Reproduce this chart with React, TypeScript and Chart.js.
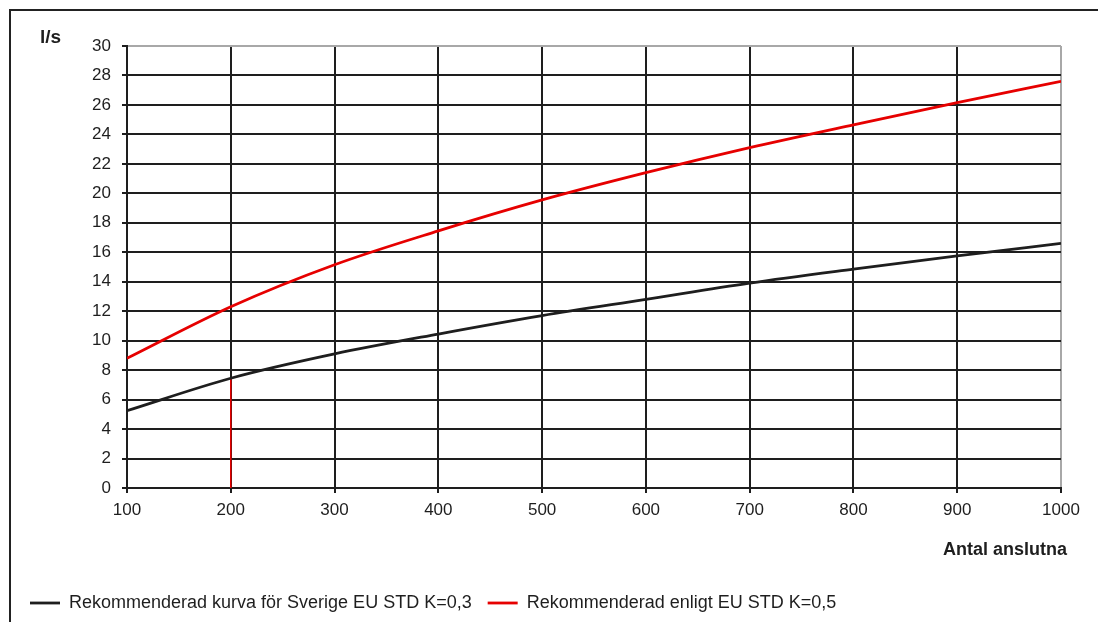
import { useEffect, useRef } from "react";
import { Chart, registerables } from "chart.js";

Chart.register(...registerables);

// Antal anslutna (x) and flow in l/s (y)
const antal = [100, 200, 300, 400, 500, 600, 700, 800, 900, 1000];
const kurvaSverige = [5.25, 7.45, 9.1, 10.45, 11.7, 12.8, 13.9, 14.85, 15.75, 16.6];
const enligtEU = [8.8, 12.3, 15.15, 17.45, 19.55, 21.4, 23.1, 24.65, 26.15, 27.6];
// red marker from the x axis up to the black curve at 200
const markerX = [200, 200];
const markerY = [0, 7.45];

const labelSverige = "Rekommenderad kurva för Sverige EU STD K=0,3";
const labelEU = "Rekommenderad enligt EU STD K=0,5";

const FONT = "'Liberation Sans', Arial, sans-serif";
const INK = "#1e1e1e";
const RED = "#e60000";

const toPoints = (xs: number[], ys: number[]) => xs.map((x, i) => ({ x, y: ys[i] }));

const axisTitles = {
  id: "axisTitles",
  afterDraw(chart: Chart) {
    const { ctx, chartArea } = chart;
    ctx.save();
    ctx.fillStyle = INK;
    ctx.textBaseline = "middle";
    ctx.font = `bold 19px ${FONT}`;
    ctx.textAlign = "left";
    ctx.fillText("l/s", chartArea.left - 87, chartArea.top - 8);
    ctx.font = `bold 18px ${FONT}`;
    ctx.textAlign = "right";
    ctx.fillText("Antal anslutna", chartArea.right + 6, chartArea.bottom + 62);
    ctx.restore();
  },
};

export default function App() {
  const chartRef = useRef<HTMLCanvasElement>(null);
  const chartInstance = useRef<Chart | null>(null);

  useEffect(() => {
    if (!chartRef.current) return;
    if (chartInstance.current) chartInstance.current.destroy();
    const ctx = chartRef.current.getContext("2d");
    if (!ctx) return;

    chartInstance.current = new Chart(ctx, {
      type: "line",
      data: {
        datasets: [
          {
            label: labelSverige,
            data: toPoints(antal, kurvaSverige),
            borderColor: INK,
            backgroundColor: INK,
            borderWidth: 2.8,
            pointRadius: 0,
            pointStyle: "line",
            tension: 0.4,
            cubicInterpolationMode: "monotone",
          },
          {
            label: labelEU,
            data: toPoints(antal, enligtEU),
            borderColor: RED,
            backgroundColor: RED,
            borderWidth: 2.8,
            pointRadius: 0,
            pointStyle: "line",
            tension: 0.4,
            cubicInterpolationMode: "monotone",
          },
          {
            label: "marker",
            data: toPoints(markerX, markerY),
            borderColor: RED,
            borderWidth: 1.6,
            pointRadius: 0,
          },
        ],
      },
      options: {
        animation: false,
        responsive: false,
        events: [],
        layout: { padding: { left: 14, right: 37, top: 46, bottom: 0 } },
        scales: {
          x: {
            type: "linear",
            min: 100,
            max: 1000,
            afterFit: (scale: any) => {
              scale.height = 90;
            },
            border: { color: INK, width: 2 },
            grid: {
              color: (c: any) => (c.tick && c.tick.value === 1000 ? "#a8a8a8" : INK),
              tickColor: INK,
              lineWidth: 2,
              tickLength: 5,
            },
            ticks: {
              stepSize: 100,
              padding: 7,
              color: INK,
              font: { family: FONT, size: 17 },
              maxRotation: 0,
              callback: (v: any) => String(v),
            },
          },
          y: {
            min: 0,
            max: 30,
            afterFit: (scale: any) => {
              scale.width = 113;
            },
            border: { color: INK, width: 2 },
            grid: {
              color: (c: any) => (c.tick && c.tick.value === 30 ? "#a8a8a8" : INK),
              tickColor: INK,
              lineWidth: 2,
              tickLength: 5,
            },
            ticks: {
              stepSize: 2,
              padding: 11,
              color: INK,
              font: { family: FONT, size: 17 },
            },
          },
        },
        plugins: {
          tooltip: { enabled: false },
          legend: {
            position: "bottom",
            align: "start",
            labels: {
              usePointStyle: true,
              pointStyleWidth: 30,
              padding: 16,
              color: INK,
              font: { family: FONT, size: 18 },
              filter: (item: any) => item.text !== "marker",
            },
          },
        },
      },
      plugins: [axisTitles],
    });

    return () => {
      if (chartInstance.current) {
        chartInstance.current.destroy();
        chartInstance.current = null;
      }
    };
  }, []);

  return (
    <div
      style={{
        position: "fixed",
        left: 0,
        top: 0,
        width: 1098,
        height: 622,
        overflow: "hidden",
        background: "#fff",
      }}
    >
      <div
        style={{
          position: "absolute",
          left: 9,
          top: 9,
          width: 1200,
          height: 800,
          border: "2px solid #222",
        }}
      />
      <canvas
        ref={chartRef}
        width={1098}
        height={622}
        style={{ position: "absolute", left: 0, top: 0, width: 1098, height: 622 }}
      />
    </div>
  );
}
